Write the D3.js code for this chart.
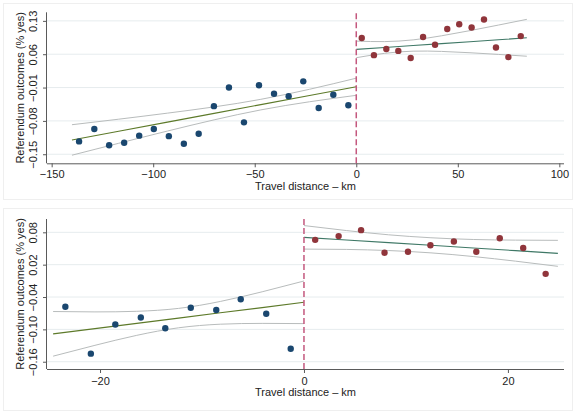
<!DOCTYPE html>
<html><head><meta charset="utf-8">
<script src="https://cdn.jsdelivr.net/npm/d3@7"></script>
<style>body{margin:0;background:#fff}svg{display:block;font-family:"Liberation Sans",Arial,sans-serif}</style>
</head><body><svg id="c" width="576" height="414"></svg>
<script>
// ---- data ----
const topBlueX = [-136.5,-129,-121.7,-114.3,-106.9,-99.7,-92.3,-84.9,-77.6,-70.1,-62.7,-55.3,-47.9,-40.5,-33.3,-26.1,-18.5,-11.3,-3.9];
const topBlueY = [-0.123,-0.097,-0.131,-0.126,-0.111,-0.097,-0.112,-0.128,-0.107,-0.049,-0.010,-0.083,-0.005,-0.023,-0.028,0.003,-0.053,-0.025,-0.047];
const topRedX = [2.7,8.7,14.8,20.7,26.8,32.9,38.8,44.8,50.7,56.8,62.9,68.8,74.9,81.0];
const topRedY = [0.094,0.058,0.071,0.067,0.052,0.096,0.080,0.113,0.123,0.116,0.133,0.074,0.054,0.098];

const topLeftFitX = [-140,-117,-93,-70,-47,-23,0];
const topLeftFitY = [-0.120,-0.1017,-0.0825,-0.0642,-0.0458,-0.0267,-0.0083];
const topLeftUpper = [-0.088,-0.0764,-0.0637,-0.0506,-0.0347,-0.0136,0.0097];
const topLeftLower = [-0.152,-0.127,-0.1013,-0.0778,-0.0569,-0.0398,-0.0263];
const topRightFitX = [0,14,28,42,56,70,84];
const topRightFitY = [0.0701,0.0742,0.0782,0.0823,0.0863,0.0904,0.0945];
const topRightUpper = [0.0875,0.0865,0.0901,0.0987,0.1095,0.1212,0.1332];
const topRightLower = [0.0527,0.0619,0.0664,0.0659,0.0631,0.0596,0.0558];

const botBlueX = [-23.4,-20.9,-18.5,-16.0,-13.6,-11.1,-8.6,-6.2,-3.7,-1.3];
const botBlueY = [-0.058,-0.145,-0.091,-0.078,-0.098,-0.060,-0.064,-0.044,-0.071,-0.136];
const botRedX = [1.1,3.4,5.6,7.9,10.2,12.4,14.7,16.9,19.2,21.5,23.7];
const botRedY = [0.066,0.073,0.084,0.042,0.044,0.056,0.063,0.044,0.069,0.051,0.003];

const botLeftFitX = [-24.6,-20.5,-16.4,-12.3,-8.2,-4.1,0];
const botLeftFitY = [-0.1083,-0.0986,-0.0888,-0.0791,-0.0693,-0.0596,-0.0498];
const botLeftUpper = [-0.0669,-0.0676,-0.0665,-0.0611,-0.0482,-0.0303,-0.0103];
const botLeftLower = [-0.1497,-0.1296,-0.1111,-0.0971,-0.0904,-0.0889,-0.0893];
const botRightFitX = [0,4.15,8.3,12.45,16.6,20.75,24.9];
const botRightFitY = [0.0707,0.0658,0.0608,0.0559,0.0509,0.046,0.041];
const botRightUpper = [0.0925,0.0833,0.0754,0.0699,0.0667,0.0655,0.0651];
const botRightLower = [0.0489,0.0483,0.0462,0.0419,0.0351,0.0265,0.0169];

const topXTicks = [-150,-100,-50,0,50,100];
const topYTicks = [-0.15,-0.08,-0.01,0.06,0.13];
const botXTicks = [-20,0,20];
const botYTicks = [-0.16,-0.10,-0.04,0.02,0.08];

const yTitle = "Referendum outcomes (% yes)";
const xTitle = "Travel distance \u2013 km";

// ---- drawing ----
const svg = d3.select("#c");
const C = {blue:"#1a476f", red:"#90353b", fitL:"#5d7a2a", fitR:"#3f7866", ci:"#b8bcbc", grid:"#e6ecee", axis:"#5a5a5a", vline:"#c4587e"};

function panel(o){
  const g = svg.append("g");
  g.append("rect").attr("x",o.box[0]).attr("y",o.box[1]).attr("width",o.box[2]).attr("height",o.box[3])
    .attr("fill","#fff").attr("stroke","#efefef");
  const x = d3.scaleLinear().domain(o.xd).range([47,564]);
  const y = d3.scaleLinear().domain(o.yd).range(o.yr);
  // grid
  g.append("g").selectAll("line").data(o.yt).join("line")
    .attr("x1",47).attr("x2",564).attr("y1",d=>y(d)).attr("y2",d=>y(d))
    .attr("stroke",C.grid).attr("stroke-width",1);
  // axes
  const ax = g.append("g").attr("transform",`translate(0,${o.yr[0]})`)
    .call(d3.axisBottom(x).tickValues(o.xt).tickSize(4).tickPadding(3).tickFormat(d3.format("d")));
  const ay = g.append("g").attr("transform","translate(47,0)")
    .call(d3.axisLeft(y).tickValues(o.yt).tickSize(4).tickPadding(3).tickFormat(d3.format(".2f")));
  [ax,ay].forEach(a=>{
    a.select(".domain").attr("stroke",C.axis).attr("d", a===ax ? "M47,0.5H564" : `M-0.5,${o.yr[0]}V${o.yr[1]}`);
    a.selectAll(".tick line").attr("stroke",C.axis);
    a.selectAll("text").attr("fill","#222").style("font-size","11px");
  });
  ax.selectAll("text").attr("y",null).attr("dy",null).attr("transform",null).attr("y",o.xlabDy);
  ay.selectAll("text").attr("x",null).attr("dy",null).attr("text-anchor","middle")
    .attr("transform","translate(-10,0) rotate(-90)").attr("y",0);
  // titles
  g.append("text").attr("x",305.5).attr("y",o.xTitleY).attr("text-anchor","middle")
    .style("font-size","11px").attr("fill","#222").text(xTitle);
  g.append("text").attr("transform",`translate(24,${(o.yr[0]+o.yr[1])/2}) rotate(-90)`)
    .attr("text-anchor","middle").style("font-size","11px").attr("fill","#222").text(yTitle);
  // fits
  const lineL = d3.line().x(d=>x(d[0])).y(d=>y(d[1]));
  const lineC = d3.line().x(d=>x(d[0])).y(d=>y(d[1])).curve(d3.curveNatural);
  o.fits.forEach(f=>{
    const up = f.x.map((v,i)=>[v,f.u[i]]), lo = f.x.map((v,i)=>[v,f.l[i]]), ft = f.x.map((v,i)=>[v,f.y[i]]);
    g.append("path").attr("d",lineC(up)).attr("fill","none").attr("stroke",C.ci).attr("stroke-width",1);
    g.append("path").attr("d",lineC(lo)).attr("fill","none").attr("stroke",C.ci).attr("stroke-width",1);
    g.append("path").attr("d",lineL(ft)).attr("fill","none").attr("stroke",f.c).attr("stroke-width",1.1);
  });
  // vertical cutoff
  g.append("line").attr("x1",x(0)).attr("x2",x(0)).attr("y1",o.yr[0]).attr("y2",o.yr[1])
    .attr("stroke",C.vline).attr("stroke-width",1.5).attr("stroke-dasharray","6,3");
  // points
  o.pts.forEach(p=>{
    g.append("g").selectAll("circle").data(p.x.map((v,i)=>[v,p.y[i]])).join("circle")
      .attr("cx",d=>x(d[0])).attr("cy",d=>y(d[1])).attr("r",3.2).attr("fill",p.c);
  });
}

panel({box:[3.5,3.5,569,196], xd:[-152.3,102.3], yd:[-0.169,0.148], yr:[163.3,12.3],
  xt:topXTicks, yt:topYTicks, xlabDy:14.5, xTitleY:190,
  fits:[{x:topLeftFitX,y:topLeftFitY,u:topLeftUpper,l:topLeftLower,c:C.fitL},
        {x:topRightFitX,y:topRightFitY,u:topRightUpper,l:topRightLower,c:C.fitR}],
  pts:[{x:topBlueX,y:topBlueY,c:C.blue},{x:topRedX,y:topRedY,c:C.red}]});

panel({box:[3.5,208.5,569,202], xd:[-25.2,25.5], yd:[-0.1735,0.1047], yr:[369,219],
  xt:botXTicks, yt:botYTicks, xlabDy:16, xTitleY:396,
  fits:[{x:botLeftFitX,y:botLeftFitY,u:botLeftUpper,l:botLeftLower,c:C.fitL},
        {x:botRightFitX,y:botRightFitY,u:botRightUpper,l:botRightLower,c:C.fitR}],
  pts:[{x:botBlueX,y:botBlueY,c:C.blue},{x:botRedX,y:botRedY,c:C.red}]});
</script></body></html>
